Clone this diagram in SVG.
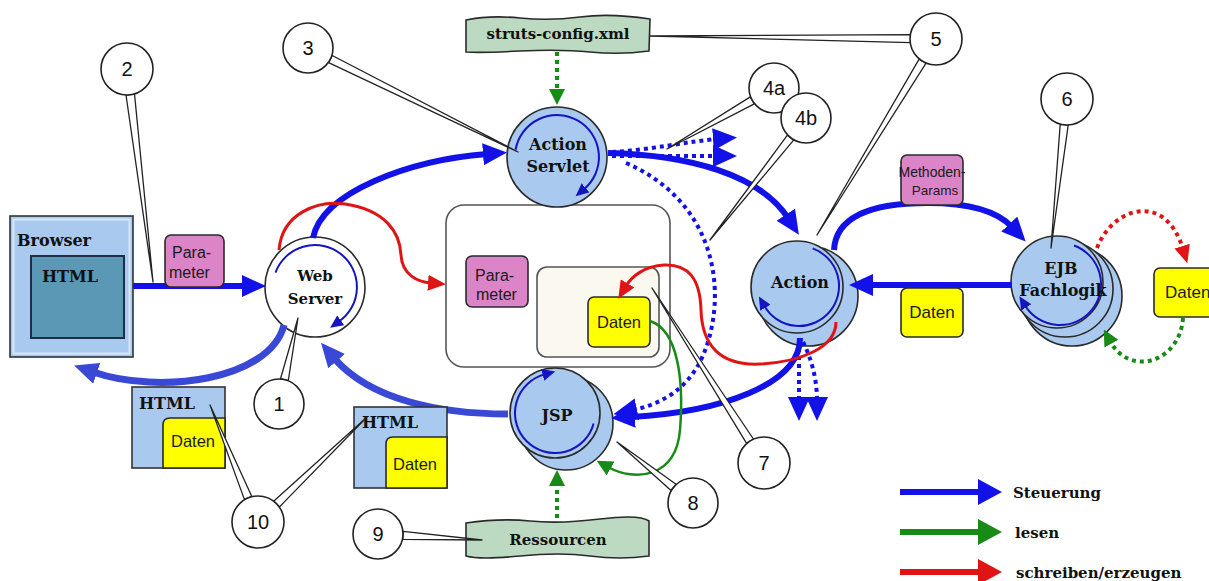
<svg xmlns="http://www.w3.org/2000/svg" width="1209" height="581" viewBox="0 0 1209 581">
  <style>
    .serif { font-family: "DejaVu Serif", "Liberation Serif", serif; font-weight: bold; fill: #111; }
    .sans { font-family: "Liberation Sans", Arial, sans-serif; fill: #1a1a1a; }
    .num { font-family: "Liberation Sans", Arial, sans-serif; font-size: 20px; fill: #111; text-anchor: middle; }
    .node { fill: #a9c9ee; stroke: #2a2a2a; stroke-width: 1.6; }
    .ring { fill: none; stroke: #1515c0; stroke-width: 2; }
    .pink { fill: #dc84c8; stroke: #2a2a2a; stroke-width: 1.6; }
    .yellow { fill: #ffff00; stroke: #2a2a2a; stroke-width: 1.6; }
    .note { fill: #bcd9c1; stroke: #2a2a2a; stroke-width: 1.6; }
    .ctl { fill: none; stroke: #1212e8; stroke-width: 6; }
    .ret { fill: none; stroke: #3a48d6; stroke-width: 7; }
    .ctlDot { fill: none; stroke: #1212e8; stroke-width: 4; stroke-dasharray: 4 4; }
    .wr { fill: none; stroke: #e01414; stroke-width: 3; }
    .wrDot { fill: none; stroke: #e01414; stroke-width: 4; stroke-dasharray: 4 4; }
    .rd { fill: none; stroke: #178a17; stroke-width: 2.5; }
    .rdDot { fill: none; stroke: #178a17; stroke-width: 4; stroke-dasharray: 4 4; }
    .tail { fill: #fff; stroke: #222; stroke-width: 1.3; stroke-linejoin: round; }
    .bubble { fill: #fff; stroke: #222; stroke-width: 1.6; }
  </style>
  <defs>
    <marker id="hB" markerUnits="userSpaceOnUse" markerWidth="24" markerHeight="22" refX="4" refY="11" orient="auto"><path d="M0,0 L24,11 L0,22 z" fill="#1212e8"/></marker>
    <marker id="hL" markerUnits="userSpaceOnUse" markerWidth="24" markerHeight="22" refX="4" refY="11" orient="auto"><path d="M0,0 L24,11 L0,22 z" fill="#3a48d6"/></marker>
    <marker id="hR" markerUnits="userSpaceOnUse" markerWidth="18" markerHeight="16" refX="3" refY="8" orient="auto"><path d="M0,0 L18,8 L0,16 z" fill="#e01414"/></marker>
    <marker id="hG" markerUnits="userSpaceOnUse" markerWidth="16" markerHeight="16" refX="3" refY="8" orient="auto"><path d="M0,0 L16,8 L0,16 z" fill="#178a17"/></marker>
    <marker id="hS" markerUnits="userSpaceOnUse" markerWidth="13" markerHeight="12" refX="2" refY="6" orient="auto"><path d="M0,0 L13,6 L0,12 z" fill="#1515c0"/></marker>
    <marker id="lgB" markerUnits="userSpaceOnUse" markerWidth="24" markerHeight="26" refX="4" refY="13" orient="auto"><path d="M0,0 L24,13 L0,26 z" fill="#1212e8"/></marker>
    <marker id="lgG" markerUnits="userSpaceOnUse" markerWidth="24" markerHeight="26" refX="4" refY="13" orient="auto"><path d="M0,0 L24,13 L0,26 z" fill="#178a17"/></marker>
    <marker id="lgR" markerUnits="userSpaceOnUse" markerWidth="24" markerHeight="26" refX="4" refY="13" orient="auto"><path d="M0,0 L24,13 L0,26 z" fill="#e01414"/></marker>
  </defs>

  <rect width="1209" height="581" fill="#fff"/>

  <!-- request scope container with its contents -->
  <g id="request-scope">
    <rect x="446" y="205" width="224" height="162" rx="18" fill="#fff" stroke="#555" stroke-width="1.6"/>
    <rect x="537" y="267" width="122" height="90" rx="10" fill="#fbf8ef" stroke="#555" stroke-width="1.6"/>
  </g>
  <g id="scope-parameter">
    <rect class="pink" x="466" y="256" width="62" height="51" rx="6"/>
    <text class="sans" x="475" y="281" font-size="16">Para-</text>
    <text class="sans" x="476" y="300" font-size="16">meter</text>
  </g>
  <g id="scope-daten">
    <rect class="yellow" x="588" y="297" width="62" height="50" rx="6"/>
    <text class="sans" x="619" y="328" font-size="16.5" text-anchor="middle">Daten</text>
  </g>

  <!-- processing nodes -->
  <g id="web-server">
    <circle cx="315" cy="287" r="50" fill="#fff" stroke="#2a2a2a" stroke-width="1.6"/>
    <path class="ring" d="M275.5 272.6 A42 42 0 1 1 339.1 321.4" marker-end="url(#hS)"/>
    <text class="serif" x="315" y="281" font-size="15" text-anchor="middle">Web</text>
    <text class="serif" x="315" y="304" font-size="15" text-anchor="middle">Server</text>
  </g>
  <g id="action-servlet">
    <circle class="node" cx="557" cy="157" r="50"/>
    <path class="ring" d="M515.6 149.7 A42 42 0 1 1 584 189.2" marker-end="url(#hS)"/>
    <text class="serif" x="558" y="150" font-size="16" text-anchor="middle">Action</text>
    <text class="serif" x="558" y="172" font-size="16" text-anchor="middle">Servlet</text>
  </g>
  <g id="action">
    <circle class="node" cx="808" cy="296" r="50"/>
    <circle class="node" cx="797" cy="287" r="46"/>
    <path class="ring" d="M812.7 248.4 A40 40 0 1 1 764.4 306" marker-end="url(#hS)"/>
    <text class="serif" x="800" y="288" font-size="16" text-anchor="middle">Action</text>
  </g>
  <g id="ejb">
    <circle class="node" cx="1072" cy="296" r="50"/>
    <circle class="node" cx="1065" cy="289" r="48"/>
    <circle class="node" cx="1057" cy="282" r="46"/>
    <path class="ring" d="M1074 245.5 A41 41 0 1 1 1025.2 305.7" marker-end="url(#hS)"/>
    <text class="serif" x="1061" y="274" font-size="16" text-anchor="middle">EJB</text>
    <text class="serif" x="1063" y="296" font-size="16" text-anchor="middle">Fachlogik</text>
  </g>
  <g id="jsp">
    <circle class="node" cx="566" cy="423" r="47"/>
    <circle class="node" cx="555" cy="413" r="45"/>
    <path class="ring" d="M593.6 423.4 A40 40 0 1 1 544.6 374.4" marker-end="url(#hS)"/>
    <text class="serif" x="557" y="421" font-size="16" text-anchor="middle">JSP</text>
  </g>

  <!-- connectors -->
  <g id="connectors">
    <!-- control flow -->
    <path class="ctl" d="M133 286 L246 286" stroke-width="5" marker-end="url(#hB)"/>
    <path class="ctl" d="M313 238 C322 192 410 160 487 154" marker-end="url(#hB)"/>
    <path class="ctl" d="M608 153 C690 155 760 175 788 218" marker-end="url(#hB)"/>
    <path class="ctl" d="M834 250 C836 212 880 203 928 203 C970 203 998 212 1012 227" stroke-width="5" marker-end="url(#hB)"/>
    <path class="ctl" d="M1012 285 L869 285" stroke-width="5" marker-end="url(#hB)"/>
    <path class="ctl" d="M800 338 C800 385 720 412 631 417" marker-end="url(#hB)"/>
    <path class="ret" d="M508 414 C440 414 370 400 334 358" marker-end="url(#hL)"/>
    <path class="ret" d="M284 325 C270 380 160 395 93 372" stroke-width="6" marker-end="url(#hL)"/>
    <!-- alternative control paths -->
    <path class="ctlDot" d="M626 163 C700 195 722 262 713 320 C705 370 680 400 633 410" marker-end="url(#hB)"/>
    <path class="ctlDot" d="M612 152 C650 150 690 141 717 139" marker-end="url(#hB)"/>
    <path class="ctlDot" d="M612 156 L717 156" marker-end="url(#hB)"/>
    <path class="ctlDot" d="M799 340 L799 401" marker-end="url(#hB)"/>
    <path class="ctlDot" d="M803 342 C812 360 817 380 817 401" marker-end="url(#hB)"/>
    <!-- write / create -->
    <path class="wr" d="M279 250 C282 213 318 200 345 204 C385 210 400 232 401 255 C402 275 418 282 431 283" marker-end="url(#hR)"/>
    <path class="wr" d="M836 322 C836 348 800 362 760 364 C720 366 702 345 701 310 C700 278 688 264 664 265 C645 266 632 276 626 286" marker-end="url(#hR)"/>
    <path class="wrDot" d="M1097 248 C1112 208 1165 190 1183 249" marker-end="url(#hR)"/>
    <!-- read -->
    <path class="rdDot" d="M557 52 L557 92" marker-end="url(#hG)"/>
    <path class="rdDot" d="M557 518 L557 483" marker-end="url(#hG)"/>
    <path class="rd" d="M650 321 C678 330 684 380 680 430 C676 478 635 482 608 467" marker-end="url(#hG)"/>
    <path class="rdDot" d="M1183 318 C1180 362 1130 378 1110 341" marker-end="url(#hG)"/>
  </g>

  <!-- data and document nodes -->
  <g id="browser">
    <rect x="10" y="216" width="123" height="141" fill="#a9c9ee" stroke="#333" stroke-width="1.6"/>
    <rect x="13.5" y="219.5" width="116" height="134" fill="none" stroke="#d6e7f7" stroke-width="2"/>
    <text class="serif" x="17" y="246" font-size="16">Browser</text>
    <rect x="31" y="256" width="93" height="82" fill="#5a98b5" stroke="#1c2f45" stroke-width="2"/>
    <text class="serif" x="42" y="282" font-size="16">HTML</text>
  </g>
  <g id="request-parameter">
    <rect class="pink" x="165" y="235" width="59" height="52" rx="6"/>
    <text class="sans" x="172" y="258" font-size="16">Para-</text>
    <text class="sans" x="169" y="278" font-size="16">meter</text>
  </g>
  <g id="method-params">
    <rect class="pink" x="901" y="155" width="62" height="50" rx="6"/>
    <text class="sans" x="932" y="177" font-size="14" text-anchor="middle">Methoden-</text>
    <text class="sans" x="935" y="195" font-size="13.5" text-anchor="middle">Params</text>
  </g>
  <g id="result-daten">
    <rect class="yellow" x="901" y="288" width="62" height="49" rx="6"/>
    <text class="sans" x="932" y="318" font-size="17" text-anchor="middle">Daten</text>
  </g>
  <g id="store-daten">
    <rect class="yellow" x="1154" y="268" width="62" height="49" rx="6"/>
    <text class="sans" x="1165" y="298" font-size="17">Daten</text>
  </g>
  <g id="html-page">
    <rect x="132" y="387" width="93" height="81" fill="#a9c9ee" stroke="#333" stroke-width="1.6"/>
    <text class="serif" x="139" y="409" font-size="16">HTML</text>
    <path class="yellow" d="M170 418 L225 418 L225 468 L163 468 L163 425 Q163 418 170 418 Z"/>
    <text class="sans" x="171" y="447" font-size="16.5">Daten</text>
  </g>
  <g id="html-response">
    <rect x="354" y="407" width="93" height="81" fill="#a9c9ee" stroke="#333" stroke-width="1.6"/>
    <text class="serif" x="362" y="428" font-size="16">HTML</text>
    <path class="yellow" d="M393 437 L447 437 L447 488 L386 488 L386 444 Q386 437 393 437 Z"/>
    <text class="sans" x="393" y="470" font-size="16.5">Daten</text>
  </g>
  <g id="struts-config">
    <path class="note" d="M466 20 Q490 15 520 18 T580 17 T650 19 L649 51 Q620 55 590 52 T520 51 T466 52 Z"/>
    <text class="serif" x="558" y="39" font-size="15" text-anchor="middle">struts-config.xml</text>
  </g>
  <g id="ressourcen">
    <path class="note" d="M466 523 Q500 518 530 521 T600 519 T649 521 L649 556 Q620 560 590 556 T520 556 T466 556 Z"/>
    <text class="serif" x="558" y="545" font-size="15" text-anchor="middle">Ressourcen</text>
  </g>

  <!-- numbered callouts -->
  <g id="label-2">
    <polygon class="tail" points="126,95 134.5,94 153,282"/>
    <circle class="bubble" cx="127" cy="69" r="26"/>
    <text class="num" x="127" y="76">2</text>
  </g>
  <g id="label-3">
    <polygon class="tail" points="328.6,62.7 332.2,55.5 518,152"/>
    <circle class="bubble" cx="308" cy="48" r="25"/>
    <text class="num" x="308" y="55">3</text>
  </g>
  <g id="label-5">
    <polygon class="tail" points="911,34.7 911,42.7 650,36"/>
    <polygon class="tail" points="919.1,59.1 925.9,63.3 817,235"/>
    <circle class="bubble" cx="936" cy="39" r="26"/>
    <text class="num" x="936" y="46">5</text>
  </g>
  <g id="label-4a">
    <polygon class="tail" points="750.3,96.9 754.3,103.9 667,149"/>
    <circle class="bubble" cx="774" cy="88" r="25"/>
    <text class="num" x="774" y="95">4a</text>
  </g>
  <g id="label-4b">
    <polygon class="tail" points="787.4,135.2 793.6,140.2 710,240"/>
    <circle class="bubble" cx="806" cy="118" r="25"/>
    <text class="num" x="806" y="125">4b</text>
  </g>
  <g id="label-6">
    <polygon class="tail" points="1060.2,124.4 1068.2,125.2 1051,248"/>
    <circle class="bubble" cx="1067" cy="99" r="26"/>
    <text class="num" x="1067" y="106">6</text>
  </g>
  <g id="label-1">
    <polygon class="tail" points="288.3,380.5 280.5,378.7 298,318"/>
    <circle class="bubble" cx="279" cy="404" r="25"/>
    <text class="num" x="279" y="411">1</text>
  </g>
  <g id="label-10">
    <polygon class="tail" points="251.8,496.4 244.4,499.4 210,405"/>
    <polygon class="tail" points="279.5,506.9 273.9,501.1 367,417"/>
    <circle class="bubble" cx="258" cy="522" r="26"/>
    <text class="num" x="258" y="529">10</text>
  </g>
  <g id="label-9">
    <polygon class="tail" points="402.8,539.4 403.2,531.4 482,540"/>
    <circle class="bubble" cx="378" cy="534" r="25"/>
    <text class="num" x="378" y="541">9</text>
  </g>
  <g id="label-7">
    <polygon class="tail" points="753.4,439 746.6,443.3 652,288"/>
    <circle class="bubble" cx="764" cy="463" r="26"/>
    <text class="num" x="764" y="470">7</text>
  </g>
  <g id="label-8">
    <polygon class="tail" points="676,484.3 671,490.5 617,442"/>
    <circle class="bubble" cx="693" cy="503" r="25"/>
    <text class="num" x="693" y="510">8</text>
  </g>

  <!-- legend -->
  <g id="legend">
    <path class="ctl" d="M900 492 L982 492" marker-end="url(#lgB)"/>
    <text class="serif" x="1013" y="498" font-size="15">Steuerung</text>
    <path class="ctl" d="M900 532 L982 532" style="stroke:#178a17" marker-end="url(#lgG)"/>
    <text class="serif" x="1015" y="538" font-size="15">lesen</text>
    <path class="ctl" d="M900 572 L982 572" style="stroke:#e01414" marker-end="url(#lgR)"/>
    <text class="serif" x="1016" y="578" font-size="15">schreiben/erzeugen</text>
  </g>
</svg>
